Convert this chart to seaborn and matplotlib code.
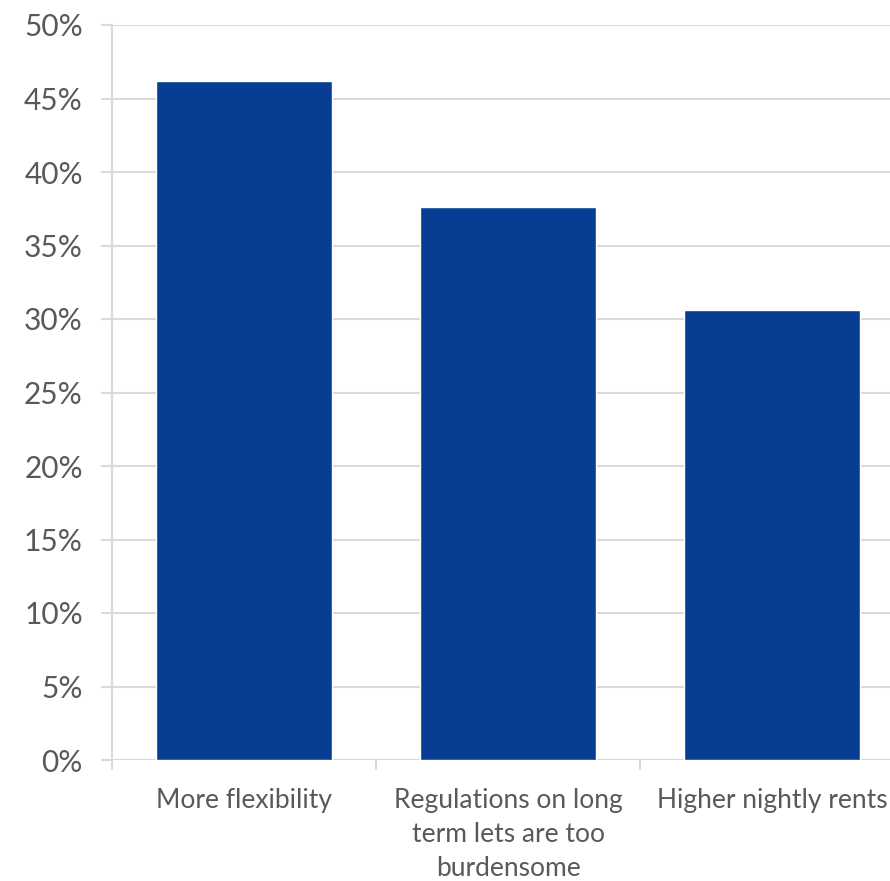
import matplotlib
matplotlib.use("Agg")
import matplotlib.pyplot as plt
import seaborn as sns
import pandas as pd
from matplotlib.ticker import FixedLocator, PercentFormatter

categories = [
    "More flexibility",
    "Regulations on long\nterm lets are too\nburdensome",
    "Higher nightly rents",
]
shares = [46.2, 37.6, 30.6]
y_ticks = [0, 5, 10, 15, 20, 25, 30, 35, 40, 45, 50]

sns.set_theme(style="white")
plt.rcParams["font.family"] = ["Lato", "DejaVu Sans"]

df = pd.DataFrame({"reason": categories, "share": shares})

fig = plt.figure(figsize=(8.9, 8.81), dpi=100)
ax = fig.add_axes([112 / 890, 121 / 881, 792 / 890, 735 / 881])

grid_col = "#d9d9d9"
text_col = "#595959"

sns.barplot(data=df, x="reason", y="share", color="#073E93", width=0.667,
            saturation=1, ax=ax, zorder=3)

ax.set_ylim(0, 50)
ax.set_xlim(-0.5, 2.5)
ax.set_yticks(y_ticks)
ax.yaxis.set_major_formatter(PercentFormatter(decimals=0))
ax.yaxis.grid(True, color=grid_col, linewidth=1.5, zorder=0)
ax.set_axisbelow(True)

for side in ["top", "right", "bottom"]:
    ax.spines[side].set_visible(False)
ax.spines["left"].set_color(grid_col)
ax.spines["left"].set_linewidth(1.5)

ax.tick_params(axis="y", which="major", length=8, width=1.5, color=grid_col,
               labelsize=21.5, labelcolor=text_col, pad=13, left=True)
ax.tick_params(axis="x", which="major", length=0, labelsize=19,
               labelcolor=text_col, pad=20)
ax.xaxis.set_minor_locator(FixedLocator([-0.5, 0.5, 1.5, 2.5]))
ax.tick_params(axis="x", which="minor", length=7, width=1.5, color=grid_col,
               bottom=True)
ax.axhline(0, color=grid_col, linewidth=1.5, zorder=1)

for lbl in ax.get_xticklabels():
    lbl.set_linespacing(1.45)
    lbl.set_ha("center")

ax.set_xlabel("")
ax.set_ylabel("")

fig.savefig("out.png", dpi=100)
